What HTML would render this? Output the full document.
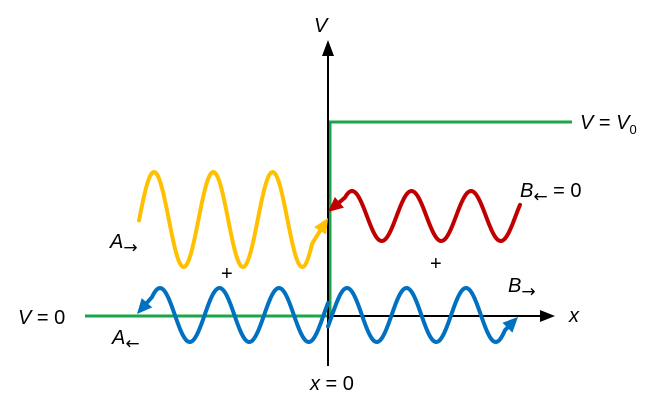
<!DOCTYPE html>
<html><head><style>body{margin:0;background:#fff}svg{display:block}text{font-family:"Liberation Sans",sans-serif;font-size:20px;fill:#000}.s{font-family:"DejaVu Sans",sans-serif;font-size:17px}</style></head>
<body>
<svg id="s" width="665" height="411" viewBox="0 0 665 411">
<polyline points="85,316 330,316 330,122 572,122" fill="none" stroke="#1aa64a" stroke-width="3"/>
<line x1="328" y1="366" x2="328" y2="44" stroke="#000" stroke-width="2"/>
<path d="M322,56 L328,40 L334,56 z" fill="#000"/>
<line x1="330" y1="316" x2="542" y2="316" stroke="#000" stroke-width="2"/>
<path d="M540,310 L555,316 L540,322 z" fill="#000"/>
<g id="g"></g>
<text x="314" y="32" font-style="italic">V</text>
<text x="580" y="129"><tspan font-style="italic">V</tspan> = <tspan font-style="italic">V</tspan><tspan font-size="13" dy="5">0</tspan></text>
<text x="520" y="197"><tspan font-style="italic">B</tspan><tspan class="s" dy="5">←</tspan><tspan dy="-5"> = 0</tspan></text>
<text x="110" y="248"><tspan font-style="italic">A</tspan><tspan class="s" dy="5">→</tspan></text>
<text x="221" y="280" font-size="16">+</text>
<text x="430" y="270" font-size="16">+</text>
<text x="508" y="292"><tspan font-style="italic">B</tspan><tspan class="s" dy="5">→</tspan></text>
<text x="569" y="322" font-style="italic">x</text>
<text x="18" y="324"><tspan font-style="italic">V</tspan> = 0</text>
<text x="112" y="344"><tspan font-style="italic">A</tspan><tspan class="s" dy="5">←</tspan></text>
<text x="310" y="390"><tspan font-style="italic">x</tspan> = 0</text>
</svg>
<script>
var g=document.getElementById("g"),NS="http://www.w3.org/2000/svg";
function el(t,a){var e=document.createElementNS(NS,t);for(var k in a)e.setAttribute(k,a[k]);g.appendChild(e);}
function f(x,c,a,pk,P){return c-a*Math.cos(2*Math.PI*(x-pk)/P);}
function ar(col,bx,by,tx,ty){var dx=tx-bx,dy=ty-by,L=Math.hypot(dx,dy);dx/=L;dy/=L;var l=15,h=7;var px=tx-dx*l,py=ty-dy*l;
el("path",{d:"M"+tx+","+ty+" L"+(px-dy*h)+","+(py+dx*h)+" L"+(px+dy*h)+","+(py-dx*h)+" z",fill:col});return [px+dx*2,py+dy*2];}
/* w: wave from x0..x1; optional arrow at start (as) or end (ae) with tip */
function w(col,x0,x1,c,a,pk,P,as,ae){var pts=[];for(var x=x0;x<=x1;x+=1)pts.push([x,f(x,c,a,pk,P)]);
if(as){var b=ar(col,pts[0][0],pts[0][1],as[0],as[1]);pts.unshift(b);}
if(ae){var e=pts[pts.length-1];var b2=ar(col,e[0],e[1],ae[0],ae[1]);pts.push(b2);}
var d="";pts.forEach(function(p,i){d+=(i?"L":"M")+p[0].toFixed(2)+","+p[1].toFixed(2);});
el("path",{d:d,fill:"none",stroke:col,"stroke-width":4,"stroke-linecap":"round","stroke-linejoin":"round"});}
var Y="#ffc000",R="#c00000",B="#0070c0";
w(Y,139,312,219.5,47.5,154,59.3,null,[328,218]);
w(R,345,520,216,25,352,59.5,[328,212],null);
w(B,152,328,315,27,160,59.5,[137,314],null);
w(B,328,505,315,27,347,59.5,null,[518,317]);
</script>
</body></html>
